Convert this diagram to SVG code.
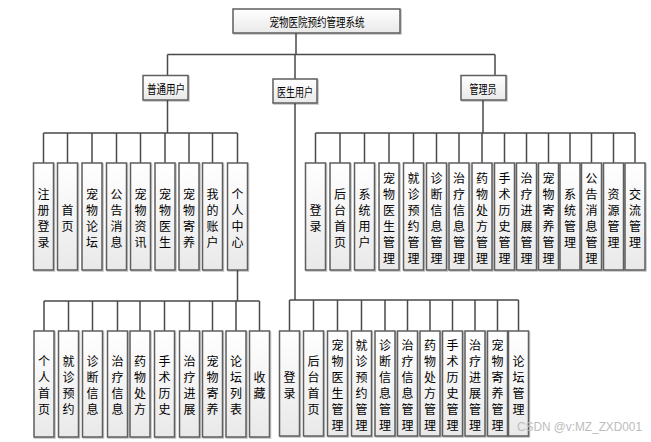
<svg xmlns="http://www.w3.org/2000/svg" width="651" height="442" viewBox="0 0 651 442">
<defs>
<linearGradient id="g" x1="0" y1="0" x2="0" y2="1"><stop offset="0" stop-color="#ffffff"/><stop offset="1" stop-color="#e9e9e9"/></linearGradient>
<filter id="sh" x="-20%" y="-20%" width="140%" height="140%"><feDropShadow dx="1" dy="1" stdDeviation="0.6" flood-color="#000" flood-opacity="0.25"/></filter>
</defs>
<style>
.b{fill:url(#g);stroke:#5e5e5e;stroke-width:1.5;filter:url(#sh)}
.t{font-family:"Noto Sans CJK SC","Noto Sans",sans-serif;font-size:12px;fill:#000;text-anchor:middle;dominant-baseline:central}
.c{stroke:#4a4a4a;stroke-width:1.5;fill:none}
.w{font-family:"Liberation Sans",sans-serif;font-size:12px;fill:#bdbdbd}
</style>
<rect width="651" height="442" fill="#fff"/>
<g id="connectors">
<path class="c" d="M296 33V54.5M167.5 54.5H495M167.5 54.5V75.5M295 54.5V79M495 54.5V75.5"/>
<path class="c" d="M167.5 100V133M43.5 133H237.5M43.5 133V163M67.5 133V163M92 133V163M116.5 133V163M140.5 133V163M165 133V163M189 133V163M212.5 133V163M237.5 133V163"/>
<path class="c" d="M483 100V133M315.5 133H635M315.5 133V163M340 133V163M364.5 133V163M389 133V163M413.5 133V163M436.5 133V163M459 133V163M482 133V163M504.5 133V163M526.5 133V163M548.5 133V163M570 133V163M591.5 133V163M613.5 133V163M635 133V163"/>
<path class="c" d="M237.5 270V301M44 301H259.5M44 301V331M68.5 301V331M92.5 301V331M117.5 301V331M140 301V331M164.5 301V331M189.5 301V331M212.5 301V331M236 301V331M259.5 301V331"/>
<path class="c" d="M295 103V300M289.5 300H518.5M289.5 300V331M313.5 300V331M337.5 300V331M361.5 300V331M385 300V331M407.5 300V331M430 300V331M452.5 300V331M475 300V331M497.5 300V331M518.5 300V331"/>
</g>
<g id="root"><rect class="b" x="233" y="9" width="167" height="24"/><text class="t" x="317" y="21" textLength="95" lengthAdjust="spacingAndGlyphs">宠物医院预约管理系统</text></g>
<g id="user"><rect class="b" x="143" y="75.5" width="45" height="24.5"/><text class="t" x="166" y="88" textLength="38" lengthAdjust="spacingAndGlyphs">普通用户</text></g>
<g id="doctor"><rect class="b" x="273" y="79" width="44" height="24"/><text class="t" x="295" y="91" textLength="36" lengthAdjust="spacingAndGlyphs">医生用户</text></g>
<g id="admin"><rect class="b" x="461" y="75.5" width="45" height="24.5"/><text class="t" x="483" y="88" textLength="27" lengthAdjust="spacingAndGlyphs">管理员</text></g>

<g id="u1"><rect class="b" x="33.5" y="163" width="20" height="107"/><text class="t"><tspan x="43.5" y="192.5">注</tspan><tspan x="43.5" y="208.5">册</tspan><tspan x="43.5" y="224.5">登</tspan><tspan x="43.5" y="240.5">录</tspan></text></g>
<g id="u2"><rect class="b" x="57.5" y="163" width="20" height="107"/><text class="t"><tspan x="67.5" y="208.5">首</tspan><tspan x="67.5" y="224.5">页</tspan></text></g>
<g id="u3"><rect class="b" x="82" y="163" width="20" height="107"/><text class="t"><tspan x="92" y="192.5">宠</tspan><tspan x="92" y="208.5">物</tspan><tspan x="92" y="224.5">论</tspan><tspan x="92" y="240.5">坛</tspan></text></g>
<g id="u4"><rect class="b" x="106.5" y="163" width="20" height="107"/><text class="t"><tspan x="116.5" y="192.5">公</tspan><tspan x="116.5" y="208.5">告</tspan><tspan x="116.5" y="224.5">消</tspan><tspan x="116.5" y="240.5">息</tspan></text></g>
<g id="u5"><rect class="b" x="130.5" y="163" width="20" height="107"/><text class="t"><tspan x="140.5" y="192.5">宠</tspan><tspan x="140.5" y="208.5">物</tspan><tspan x="140.5" y="224.5">资</tspan><tspan x="140.5" y="240.5">讯</tspan></text></g>
<g id="u6"><rect class="b" x="155" y="163" width="20" height="107"/><text class="t"><tspan x="165" y="192.5">宠</tspan><tspan x="165" y="208.5">物</tspan><tspan x="165" y="224.5">医</tspan><tspan x="165" y="240.5">生</tspan></text></g>
<g id="u7"><rect class="b" x="179" y="163" width="20" height="107"/><text class="t"><tspan x="189" y="192.5">宠</tspan><tspan x="189" y="208.5">物</tspan><tspan x="189" y="224.5">寄</tspan><tspan x="189" y="240.5">养</tspan></text></g>
<g id="u8"><rect class="b" x="202.5" y="163" width="20" height="107"/><text class="t"><tspan x="212.5" y="192.5">我</tspan><tspan x="212.5" y="208.5">的</tspan><tspan x="212.5" y="224.5">账</tspan><tspan x="212.5" y="240.5">户</tspan></text></g>
<g id="u9"><rect class="b" x="227.5" y="163" width="20" height="107"/><text class="t"><tspan x="237.5" y="192.5">个</tspan><tspan x="237.5" y="208.5">人</tspan><tspan x="237.5" y="224.5">中</tspan><tspan x="237.5" y="240.5">心</tspan></text></g>

<g id="a1"><rect class="b" x="305.5" y="163" width="20" height="107"/><text class="t"><tspan x="315.5" y="208.5">登</tspan><tspan x="315.5" y="224.5">录</tspan></text></g>
<g id="a2"><rect class="b" x="330" y="163" width="20" height="107"/><text class="t"><tspan x="340" y="192.5">后</tspan><tspan x="340" y="208.5">台</tspan><tspan x="340" y="224.5">首</tspan><tspan x="340" y="240.5">页</tspan></text></g>
<g id="a3"><rect class="b" x="354.5" y="163" width="20" height="107"/><text class="t"><tspan x="364.5" y="192.5">系</tspan><tspan x="364.5" y="208.5">统</tspan><tspan x="364.5" y="224.5">用</tspan><tspan x="364.5" y="240.5">户</tspan></text></g>
<g id="a4"><rect class="b" x="379" y="163" width="20" height="107"/><text class="t"><tspan x="389" y="176.5">宠</tspan><tspan x="389" y="192.5">物</tspan><tspan x="389" y="208.5">医</tspan><tspan x="389" y="224.5">生</tspan><tspan x="389" y="240.5">管</tspan><tspan x="389" y="256.5">理</tspan></text></g>
<g id="a5"><rect class="b" x="403.5" y="163" width="20" height="107"/><text class="t"><tspan x="413.5" y="176.5">就</tspan><tspan x="413.5" y="192.5">诊</tspan><tspan x="413.5" y="208.5">预</tspan><tspan x="413.5" y="224.5">约</tspan><tspan x="413.5" y="240.5">管</tspan><tspan x="413.5" y="256.5">理</tspan></text></g>
<g id="a6"><rect class="b" x="426.5" y="163" width="20" height="107"/><text class="t"><tspan x="436.5" y="176.5">诊</tspan><tspan x="436.5" y="192.5">断</tspan><tspan x="436.5" y="208.5">信</tspan><tspan x="436.5" y="224.5">息</tspan><tspan x="436.5" y="240.5">管</tspan><tspan x="436.5" y="256.5">理</tspan></text></g>
<g id="a7"><rect class="b" x="449" y="163" width="20" height="107"/><text class="t"><tspan x="459" y="176.5">治</tspan><tspan x="459" y="192.5">疗</tspan><tspan x="459" y="208.5">信</tspan><tspan x="459" y="224.5">息</tspan><tspan x="459" y="240.5">管</tspan><tspan x="459" y="256.5">理</tspan></text></g>
<g id="a8"><rect class="b" x="472" y="163" width="20" height="107"/><text class="t"><tspan x="482" y="176.5">药</tspan><tspan x="482" y="192.5">物</tspan><tspan x="482" y="208.5">处</tspan><tspan x="482" y="224.5">方</tspan><tspan x="482" y="240.5">管</tspan><tspan x="482" y="256.5">理</tspan></text></g>
<g id="a9"><rect class="b" x="494.5" y="163" width="20" height="107"/><text class="t"><tspan x="504.5" y="176.5">手</tspan><tspan x="504.5" y="192.5">术</tspan><tspan x="504.5" y="208.5">历</tspan><tspan x="504.5" y="224.5">史</tspan><tspan x="504.5" y="240.5">管</tspan><tspan x="504.5" y="256.5">理</tspan></text></g>
<g id="a10"><rect class="b" x="516.5" y="163" width="20" height="107"/><text class="t"><tspan x="526.5" y="176.5">治</tspan><tspan x="526.5" y="192.5">疗</tspan><tspan x="526.5" y="208.5">进</tspan><tspan x="526.5" y="224.5">展</tspan><tspan x="526.5" y="240.5">管</tspan><tspan x="526.5" y="256.5">理</tspan></text></g>
<g id="a11"><rect class="b" x="538.5" y="163" width="20" height="107"/><text class="t"><tspan x="548.5" y="176.5">宠</tspan><tspan x="548.5" y="192.5">物</tspan><tspan x="548.5" y="208.5">寄</tspan><tspan x="548.5" y="224.5">养</tspan><tspan x="548.5" y="240.5">管</tspan><tspan x="548.5" y="256.5">理</tspan></text></g>
<g id="a12"><rect class="b" x="560" y="163" width="20" height="107"/><text class="t"><tspan x="570" y="192.5">系</tspan><tspan x="570" y="208.5">统</tspan><tspan x="570" y="224.5">管</tspan><tspan x="570" y="240.5">理</tspan></text></g>
<g id="a13"><rect class="b" x="581.5" y="163" width="20" height="107"/><text class="t"><tspan x="591.5" y="176.5">公</tspan><tspan x="591.5" y="192.5">告</tspan><tspan x="591.5" y="208.5">消</tspan><tspan x="591.5" y="224.5">息</tspan><tspan x="591.5" y="240.5">管</tspan><tspan x="591.5" y="256.5">理</tspan></text></g>
<g id="a14"><rect class="b" x="603.5" y="163" width="20" height="107"/><text class="t"><tspan x="613.5" y="192.5">资</tspan><tspan x="613.5" y="208.5">源</tspan><tspan x="613.5" y="224.5">管</tspan><tspan x="613.5" y="240.5">理</tspan></text></g>
<g id="a15"><rect class="b" x="625" y="163" width="20" height="107"/><text class="t"><tspan x="635" y="192.5">交</tspan><tspan x="635" y="208.5">流</tspan><tspan x="635" y="224.5">管</tspan><tspan x="635" y="240.5">理</tspan></text></g>

<g id="p1"><rect class="b" x="34" y="331" width="20" height="106"/><text class="t"><tspan x="44" y="360">个</tspan><tspan x="44" y="376">人</tspan><tspan x="44" y="392">首</tspan><tspan x="44" y="408">页</tspan></text></g>
<g id="p2"><rect class="b" x="58.5" y="331" width="20" height="106"/><text class="t"><tspan x="68.5" y="360">就</tspan><tspan x="68.5" y="376">诊</tspan><tspan x="68.5" y="392">预</tspan><tspan x="68.5" y="408">约</tspan></text></g>
<g id="p3"><rect class="b" x="82.5" y="331" width="20" height="106"/><text class="t"><tspan x="92.5" y="360">诊</tspan><tspan x="92.5" y="376">断</tspan><tspan x="92.5" y="392">信</tspan><tspan x="92.5" y="408">息</tspan></text></g>
<g id="p4"><rect class="b" x="107.5" y="331" width="20" height="106"/><text class="t"><tspan x="117.5" y="360">治</tspan><tspan x="117.5" y="376">疗</tspan><tspan x="117.5" y="392">信</tspan><tspan x="117.5" y="408">息</tspan></text></g>
<g id="p5"><rect class="b" x="130" y="331" width="20" height="106"/><text class="t"><tspan x="140" y="360">药</tspan><tspan x="140" y="376">物</tspan><tspan x="140" y="392">处</tspan><tspan x="140" y="408">方</tspan></text></g>
<g id="p6"><rect class="b" x="154.5" y="331" width="20" height="106"/><text class="t"><tspan x="164.5" y="360">手</tspan><tspan x="164.5" y="376">术</tspan><tspan x="164.5" y="392">历</tspan><tspan x="164.5" y="408">史</tspan></text></g>
<g id="p7"><rect class="b" x="179.5" y="331" width="20" height="106"/><text class="t"><tspan x="189.5" y="360">治</tspan><tspan x="189.5" y="376">疗</tspan><tspan x="189.5" y="392">进</tspan><tspan x="189.5" y="408">展</tspan></text></g>
<g id="p8"><rect class="b" x="202.5" y="331" width="20" height="106"/><text class="t"><tspan x="212.5" y="360">宠</tspan><tspan x="212.5" y="376">物</tspan><tspan x="212.5" y="392">寄</tspan><tspan x="212.5" y="408">养</tspan></text></g>
<g id="p9"><rect class="b" x="226" y="331" width="20" height="106"/><text class="t"><tspan x="236" y="360">论</tspan><tspan x="236" y="376">坛</tspan><tspan x="236" y="392">列</tspan><tspan x="236" y="408">表</tspan></text></g>
<g id="p10"><rect class="b" x="249.5" y="331" width="20" height="106"/><text class="t"><tspan x="259.5" y="376">收</tspan><tspan x="259.5" y="392">藏</tspan></text></g>

<g id="d1"><rect class="b" x="279.5" y="331" width="20" height="105"/><text class="t"><tspan x="289.5" y="375.5">登</tspan><tspan x="289.5" y="391.5">录</tspan></text></g>
<g id="d2"><rect class="b" x="303.5" y="331" width="20" height="105"/><text class="t"><tspan x="313.5" y="359.5">后</tspan><tspan x="313.5" y="375.5">台</tspan><tspan x="313.5" y="391.5">首</tspan><tspan x="313.5" y="407.5">页</tspan></text></g>
<g id="d3"><rect class="b" x="327.5" y="331" width="20" height="105"/><text class="t"><tspan x="337.5" y="343.5">宠</tspan><tspan x="337.5" y="359.5">物</tspan><tspan x="337.5" y="375.5">医</tspan><tspan x="337.5" y="391.5">生</tspan><tspan x="337.5" y="407.5">管</tspan><tspan x="337.5" y="423.5">理</tspan></text></g>
<g id="d4"><rect class="b" x="351.5" y="331" width="20" height="105"/><text class="t"><tspan x="361.5" y="343.5">就</tspan><tspan x="361.5" y="359.5">诊</tspan><tspan x="361.5" y="375.5">预</tspan><tspan x="361.5" y="391.5">约</tspan><tspan x="361.5" y="407.5">管</tspan><tspan x="361.5" y="423.5">理</tspan></text></g>
<g id="d5"><rect class="b" x="375" y="331" width="20" height="105"/><text class="t"><tspan x="385" y="343.5">诊</tspan><tspan x="385" y="359.5">断</tspan><tspan x="385" y="375.5">信</tspan><tspan x="385" y="391.5">息</tspan><tspan x="385" y="407.5">管</tspan><tspan x="385" y="423.5">理</tspan></text></g>
<g id="d6"><rect class="b" x="397.5" y="331" width="20" height="105"/><text class="t"><tspan x="407.5" y="343.5">治</tspan><tspan x="407.5" y="359.5">疗</tspan><tspan x="407.5" y="375.5">信</tspan><tspan x="407.5" y="391.5">息</tspan><tspan x="407.5" y="407.5">管</tspan><tspan x="407.5" y="423.5">理</tspan></text></g>
<g id="d7"><rect class="b" x="420" y="331" width="20" height="105"/><text class="t"><tspan x="430" y="343.5">药</tspan><tspan x="430" y="359.5">物</tspan><tspan x="430" y="375.5">处</tspan><tspan x="430" y="391.5">方</tspan><tspan x="430" y="407.5">管</tspan><tspan x="430" y="423.5">理</tspan></text></g>
<g id="d8"><rect class="b" x="442.5" y="331" width="20" height="105"/><text class="t"><tspan x="452.5" y="343.5">手</tspan><tspan x="452.5" y="359.5">术</tspan><tspan x="452.5" y="375.5">历</tspan><tspan x="452.5" y="391.5">史</tspan><tspan x="452.5" y="407.5">管</tspan><tspan x="452.5" y="423.5">理</tspan></text></g>
<g id="d9"><rect class="b" x="465" y="331" width="20" height="105"/><text class="t"><tspan x="475" y="343.5">治</tspan><tspan x="475" y="359.5">疗</tspan><tspan x="475" y="375.5">进</tspan><tspan x="475" y="391.5">展</tspan><tspan x="475" y="407.5">管</tspan><tspan x="475" y="423.5">理</tspan></text></g>
<g id="d10"><rect class="b" x="487.5" y="331" width="20" height="105"/><text class="t"><tspan x="497.5" y="343.5">宠</tspan><tspan x="497.5" y="359.5">物</tspan><tspan x="497.5" y="375.5">寄</tspan><tspan x="497.5" y="391.5">养</tspan><tspan x="497.5" y="407.5">管</tspan><tspan x="497.5" y="423.5">理</tspan></text></g>
<g id="d11"><rect class="b" x="508.5" y="331" width="20" height="105"/><text class="t"><tspan x="518.5" y="359.5">论</tspan><tspan x="518.5" y="375.5">坛</tspan><tspan x="518.5" y="391.5">管</tspan><tspan x="518.5" y="407.5">理</tspan></text></g>

<text class="w" x="517" y="431" textLength="125" lengthAdjust="spacingAndGlyphs">CSDN @v:MZ_ZXD001</text>
</svg>
